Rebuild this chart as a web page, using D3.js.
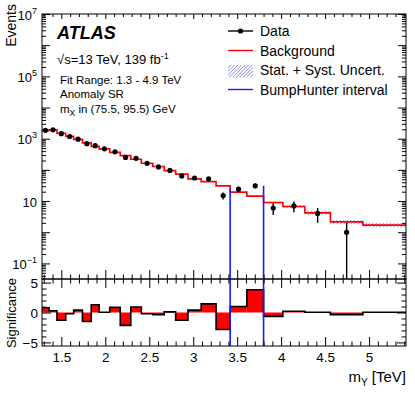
<!DOCTYPE html>
<html>
<head>
<meta charset="utf-8">
<script src="https://cdn.jsdelivr.net/npm/d3@7"></script>
<style>
  body { margin: 0; background: #fff; }
  text { font-family: "Liberation Sans", Arial, Helvetica, sans-serif; }
</style>
</head>
<body>
<script>
// bin edges of m_Y [TeV]
var edges = [1.28, 1.36, 1.45, 1.55, 1.64, 1.74, 1.84, 1.93, 2.05, 2.17, 2.29, 2.41, 2.54,
             2.67, 2.80, 2.94, 3.09, 3.26, 3.42, 3.61, 3.80, 4.02, 4.27, 4.56, 4.93, 5.42];
var background = [1820, 1915, 1500, 1185, 950, 733, 566, 471, 364, 287, 220, 164, 128,
                  95, 73, 51.5, 42, 30.7, 19.3, 14.4, 8.95, 6.67, 4.19, 2.15, 1.69];
var bkgUnc = [0.02, 0.02, 0.02, 0.02, 0.02, 0.02, 0.02, 0.02, 0.02, 0.02, 0.025, 0.025, 0.03,
              0.03, 0.03, 0.035, 0.035, 0.04, 0.05, 0.06, 0.09, 0.12, 0.14, 0.16, 0.17];
var data = [1858, 1927, 1450, 1179, 964, 692, 599, 472, 382, 251, 234, 162, 124,
            96, 64, 55, 52, 15, 24, 31, 6, 7, 4, 1, 0];
var significance = [0.8, 0.3, -1.3, -0.2, 0.4, -1.5, 1.3, 0.05, 0.85, -2.15, 0.9, -0.2, -0.35,
                    0.1, -1.3, 0.4, 1.45, -2.85, 1.0, 3.8, -0.65, 0.2, 0.05, -0.35, 0.05];
var bhInterval = [3.42, 3.80];
var xLabels = [1.5, 2, 2.5, 3, 3.5, 4, 4.5, 5];
var yLabelExps = [-1, 1, 3, 5, 7];
var sigLabels = [-5, 0, 5];

var W = 415, H = 399;
var L = 42, R = 406, T = 14, M = 279, B = 346;
var font = '"Liberation Sans", Arial, Helvetica, sans-serif';
var hatchColor = "#8080ff";

var x = d3.scaleLinear().domain([1.28, 5.42]).range([L, R]);
var y = d3.scaleLog().domain([Math.pow(10, -1.5), 1e7]).range([M, T]);
var ys = d3.scaleLinear().domain([-5.6, 5.6]).range([B, M]);

var bins = background.map((b, i) => ({lo: edges[i], hi: edges[i + 1], bkg: b, unc: bkgUnc[i],
                                       n: data[i], sig: significance[i]}));

var svg = d3.select("body").append("svg").attr("width", W).attr("height", H);
svg.append("rect").attr("width", W).attr("height", H).attr("fill", "#fff");

var defs = svg.append("defs");
defs.append("clipPath").attr("id", "clipMain")
    .append("rect").attr("x", L).attr("y", T).attr("width", R - L).attr("height", M - T);

// diagonal hatching drawn as real lines inside a clipped box
var clipId = 0;
function hatchBox(parent, x0, y0, w, h) {
  var id = "hb" + (clipId++);
  defs.append("clipPath").attr("id", id)
      .append("rect").attr("x", x0).attr("y", y0).attr("width", w).attr("height", h);
  var g = parent.append("g").attr("clip-path", "url(#" + id + ")");
  var step = 3.5;
  var n = Math.ceil((w + h) / step) + 1;
  g.selectAll("line").data(d3.range(n)).enter().append("line")
   .attr("x1", i => x0 + i * step - h).attr("y1", y0 + h)
   .attr("x2", i => x0 + i * step).attr("y2", y0)
   .attr("stroke", hatchColor).attr("stroke-width", 0.9);
}

// ---------- main panel ----------
var main = svg.append("g").attr("clip-path", "url(#clipMain)");

bins.forEach(d => {
  var top = y(d.bkg * (1 + d.unc)), bot = y(d.bkg * (1 - d.unc));
  hatchBox(main, x(d.lo), top, x(d.hi) - x(d.lo), bot - top);
});

var stepPts = bins.map(d => [d.lo, d.bkg]).concat([[edges[edges.length - 1], background[background.length - 1]]]);
main.append("path")
    .attr("d", d3.line().x(d => x(d[0])).y(d => y(d[1])).curve(d3.curveStepAfter)(stepPts))
    .attr("fill", "none").attr("stroke", "#ff0000").attr("stroke-width", 1.6);

// BumpHunter lines up to the data in the edge bins
var bhBins = bins.filter(d => d.lo >= bhInterval[0] - 1e-6 && d.hi <= bhInterval[1] + 1e-6);
main.selectAll(".bh").data(bhInterval).enter().append("line")
    .attr("x1", d => x(d)).attr("x2", d => x(d))
    .attr("y1", M)
    .attr("y2", (d, i) => y(i === 0 ? bhBins[0].n : bhBins[bhBins.length - 1].n))
    .attr("stroke", "#1a1aff").attr("stroke-width", 1.6);

var pts = bins.filter(d => d.n > 0);
main.selectAll(".err").data(pts).enter().append("line")
    .attr("x1", d => x((d.lo + d.hi) / 2)).attr("x2", d => x((d.lo + d.hi) / 2))
    .attr("y1", d => d.n - Math.sqrt(d.n) > 0 ? y(d.n - Math.sqrt(d.n)) : M)
    .attr("y2", d => y(d.n + Math.sqrt(d.n)))
    .attr("stroke", "#000").attr("stroke-width", 1.4);
main.selectAll(".pt").data(pts).enter().append("circle")
    .attr("cx", d => x((d.lo + d.hi) / 2)).attr("cy", d => y(d.n))
    .attr("r", 2.6).attr("fill", "#000");

// ---------- ratio panel ----------
svg.selectAll(".sigbar").data(bins).enter().append("rect")
   .attr("x", d => x(d.lo)).attr("width", d => x(d.hi) - x(d.lo))
   .attr("y", d => Math.min(ys(0), ys(d.sig)))
   .attr("height", d => Math.abs(ys(d.sig) - ys(0)))
   .attr("fill", "#ff0000");
var sigPts = bins.map(d => [d.lo, d.sig]).concat([[edges[edges.length - 1], significance[significance.length - 1]]]);
svg.append("path")
   .attr("d", d3.line().x(d => x(d[0])).y(d => ys(d[1])).curve(d3.curveStepAfter)(sigPts))
   .attr("fill", "none").attr("stroke", "#000").attr("stroke-width", 1.6);
svg.selectAll(".bhr").data(bhInterval).enter().append("line")
   .attr("x1", d => x(d)).attr("x2", d => x(d)).attr("y1", M).attr("y2", B)
   .attr("stroke", "#1a1aff").attr("stroke-width", 1.6);

// ---------- axes ----------
function ticks(axis, pos, values, size, fmt, pad) {
  var g = svg.append("g").attr("transform", pos)
             .call(axis.tickValues(values).tickSize(size).tickFormat(fmt || (() => "")).tickPadding(pad || 3));
  g.select(".domain").remove();
  g.selectAll("line").attr("stroke", "#000").attr("stroke-width", 1);
  g.attr("font-family", font).attr("font-size", 13.5);
  return g;
}
var xMinor = d3.range(13, 55).map(d => d / 10).filter(d => xLabels.indexOf(d) < 0);
var yMinor = [];
d3.range(-2, 7).forEach(e => d3.range(2, 10).forEach(k => yMinor.push(k * Math.pow(10, e))));
yMinor = yMinor.filter(v => v > y.domain()[0] && v < y.domain()[1]);
var yMajor = d3.range(-1, 8).map(e => Math.pow(10, e));
var sigMinor = d3.range(-5, 6).filter(d => sigLabels.indexOf(d) < 0);

// main x ticks
ticks(d3.axisTop(x), "translate(0," + T + ")", xLabels, -5);
ticks(d3.axisTop(x), "translate(0," + T + ")", xMinor, -3);
ticks(d3.axisBottom(x), "translate(0," + M + ")", xLabels, -9);
ticks(d3.axisBottom(x), "translate(0," + M + ")", xMinor, -4.5);
// main y ticks
ticks(d3.axisLeft(y), "translate(" + L + ",0)", yMajor, -8);
ticks(d3.axisLeft(y), "translate(" + L + ",0)", yMinor, -4);
ticks(d3.axisRight(y), "translate(" + R + ",0)", yMajor, -8);
ticks(d3.axisRight(y), "translate(" + R + ",0)", yMinor, -4);
// ratio x ticks
ticks(d3.axisTop(x), "translate(0," + M + ")", xLabels, -9);
ticks(d3.axisTop(x), "translate(0," + M + ")", xMinor, -4.5);
var xb = ticks(d3.axisBottom(x), "translate(0," + B + ")", xLabels, -9, d3.format("~g"), 6);
xb.selectAll("text").attr("fill", "#000");
ticks(d3.axisBottom(x), "translate(0," + B + ")", xMinor, -4.5);
// ratio y ticks
var yl = ticks(d3.axisLeft(ys), "translate(" + L + ",0)", sigLabels, -9, d3.format("d"), 4);
yl.selectAll("text").attr("fill", "#000").attr("dy", "0.36em");
ticks(d3.axisLeft(ys), "translate(" + L + ",0)", sigMinor, -4.5);
ticks(d3.axisRight(ys), "translate(" + R + ",0)", sigLabels, -9);
ticks(d3.axisRight(ys), "translate(" + R + ",0)", sigMinor, -4.5);

// log labels
var ylab = svg.selectAll(".ylab").data(yLabelExps).enter().append("text")
              .attr("x", 37).attr("y", d => y(Math.pow(10, d)) + 5.5)
              .attr("text-anchor", "end").attr("font-size", 13).attr("fill", "#000");
ylab.append("tspan").text("10");
ylab.filter(d => d !== 1).append("tspan").attr("dy", -6).attr("font-size", 9)
    .text(d => d < 0 ? "\u2212" + (-d) : d);

// frames
[[T, M], [M, B]].forEach(p => svg.append("rect").attr("x", L).attr("y", p[0])
    .attr("width", R - L).attr("height", p[1] - p[0])
    .attr("fill", "none").attr("stroke", "#000").attr("stroke-width", 1));

// titles
svg.append("text").attr("transform", "translate(16,4)rotate(-90)")
   .attr("text-anchor", "end").attr("font-size", 14).text("Events");
svg.append("text").attr("transform", "translate(16,313)rotate(-90)")
   .attr("text-anchor", "middle").attr("font-size", 13).text("Significance");
var xt = svg.append("text").attr("x", R).attr("y", 382).attr("text-anchor", "end").attr("font-size", 15);
xt.append("tspan").text("m");
xt.append("tspan").attr("dy", 4).attr("font-size", 10).text("Y");
xt.append("tspan").attr("dy", -4).text(" [TeV]");

// labels
svg.append("text").attr("x", 57).attr("y", 39).attr("font-size", 18)
   .attr("font-weight", "bold").attr("font-style", "italic").text("ATLAS");
var lumi = svg.append("text").attr("x", 57).attr("y", 64).attr("font-size", 13);
lumi.append("tspan").text("\u221As=13 TeV, 139 fb");
lumi.append("tspan").attr("dy", -5).attr("font-size", 9).text("-1");
svg.append("text").attr("x", 60).attr("y", 83.5).attr("font-size", 11.5).text("Fit Range: 1.3 - 4.9 TeV");
svg.append("text").attr("x", 60).attr("y", 98).attr("font-size", 11.5).text("Anomaly SR");
var mx = svg.append("text").attr("x", 60).attr("y", 112.5).attr("font-size", 11.5);
mx.append("tspan").text("m");
mx.append("tspan").attr("dy", 3).attr("font-size", 8.5).text("X");
mx.append("tspan").attr("dy", -3).text(" in (75.5, 95.5) GeV");

// legend
var legendItems = ["Data", "Background", "Stat. + Syst. Uncert.", "BumpHunter interval"];
var leg = svg.selectAll(".leg").data(legendItems).enter().append("g")
             .attr("transform", (d, i) => "translate(228," + (31 + i * 19.5) + ")");
leg.append("text").attr("x", 32).attr("y", 5).attr("font-size", 14).text(d => d);
leg.filter((d, i) => i !== 2).append("line").attr("x1", 0).attr("x2", 25)
   .attr("stroke", (d, i) => ["#000", "#ff0000", "#1a1aff"][i]).attr("stroke-width", 1.4);
leg.filter((d, i) => i === 0).append("circle").attr("cx", 12.5).attr("r", 2.6);
hatchBox(svg, 228, 31 + 2 * 19.5 - 5.5, 25, 13);
</script>
</body>
</html>
